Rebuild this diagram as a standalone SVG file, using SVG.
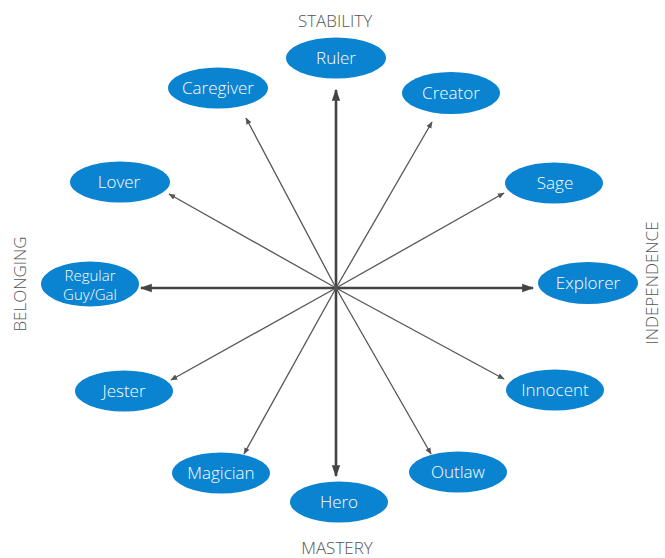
<svg xmlns="http://www.w3.org/2000/svg" width="665" height="558" viewBox="0 0 665 558">
<style>
.node ellipse{fill:#0A83D0;}
.node text{fill:#fff;font-family:"Open Sans","Liberation Sans",sans-serif;font-weight:300;font-size:17px;text-anchor:middle;dominant-baseline:central;}
.axis{fill:#555;font-family:"Open Sans","Liberation Sans",sans-serif;font-weight:300;font-size:17px;text-anchor:middle;}
.thin{stroke:#555;stroke-width:1.3;fill:none;marker-end:url(#as);}
.thick{stroke:#444;stroke-width:2.6;fill:none;marker-end:url(#al);}
</style>
<defs>
<marker id="as" viewBox="0 0 10 10" refX="9" refY="5" markerWidth="7" markerHeight="7" markerUnits="userSpaceOnUse" orient="auto"><path d="M0,1 L10,5 L0,9 Z" fill="#555"/></marker>
<marker id="al" viewBox="0 0 10 10" refX="9" refY="5" markerWidth="12" markerHeight="12" markerUnits="userSpaceOnUse" orient="auto"><path d="M0,1.5 L10,5 L0,8.5 Z" fill="#444"/></marker>
</defs>
<rect width="665" height="558" fill="#fff"/>
<g id="connectors">
<line class="thick" x1="336" y1="288" x2="336" y2="90"/>
<line class="thick" x1="336" y1="288" x2="336" y2="476"/>
<line class="thick" x1="336" y1="288" x2="141" y2="288"/>
<line class="thick" x1="336" y1="288" x2="533" y2="288"/>
<line class="thin" x1="336" y1="288" x2="246" y2="118"/>
<line class="thin" x1="336" y1="288" x2="432" y2="122"/>
<line class="thin" x1="336" y1="288" x2="169" y2="194"/>
<line class="thin" x1="336" y1="288" x2="504" y2="193"/>
<line class="thin" x1="336" y1="288" x2="171" y2="380"/>
<line class="thin" x1="336" y1="288" x2="504" y2="379"/>
<line class="thin" x1="336" y1="288" x2="244" y2="454"/>
<line class="thin" x1="336" y1="288" x2="431" y2="454"/>
</g>
<g id="axis-labels">
<text class="axis" x="335" y="27">STABILITY</text>
<text class="axis" x="337" y="554">MASTERY</text>
<text class="axis" transform="translate(26,284) rotate(-90)">BELONGING</text>
<text class="axis" transform="translate(658,283) rotate(-90)">INDEPENDENCE</text>
</g>
<g id="ruler" class="node"><ellipse cx="336" cy="58" rx="50" ry="20.5"/><text x="336" y="57">Ruler</text></g>
<g id="creator" class="node"><ellipse cx="451" cy="93" rx="49" ry="21"/><text x="451" y="92">Creator</text></g>
<g id="caregiver" class="node"><ellipse cx="218" cy="88" rx="50" ry="20.5"/><text x="218" y="87">Caregiver</text></g>
<g id="sage" class="node"><ellipse cx="554" cy="183" rx="49" ry="20.5"/><text x="555" y="182">Sage</text></g>
<g id="lover" class="node"><ellipse cx="120" cy="182" rx="50" ry="20.5"/><text x="119" y="181">Lover</text></g>
<g id="explorer" class="node"><ellipse cx="588" cy="283" rx="50" ry="21"/><text x="588" y="282">Explorer</text></g>
<g id="regular" class="node"><ellipse cx="90" cy="284" rx="49" ry="22.5"/><text x="90" y="275" style="font-size:15px">Regular</text><text x="90" y="294" style="font-size:15px">Guy/Gal</text></g>
<g id="innocent" class="node"><ellipse cx="555" cy="390" rx="49" ry="20.5"/><text x="555" y="389">Innocent</text></g>
<g id="jester" class="node"><ellipse cx="124" cy="391" rx="49" ry="20.5"/><text x="124" y="390">Jester</text></g>
<g id="outlaw" class="node"><ellipse cx="458" cy="472" rx="49" ry="20.5"/><text x="458" y="471">Outlaw</text></g>
<g id="magician" class="node"><ellipse cx="221" cy="473" rx="49" ry="20.5"/><text x="221" y="472">Magician</text></g>
<g id="hero" class="node"><ellipse cx="339" cy="502" rx="49" ry="20.5"/><text x="339" y="501">Hero</text></g>
</svg>
